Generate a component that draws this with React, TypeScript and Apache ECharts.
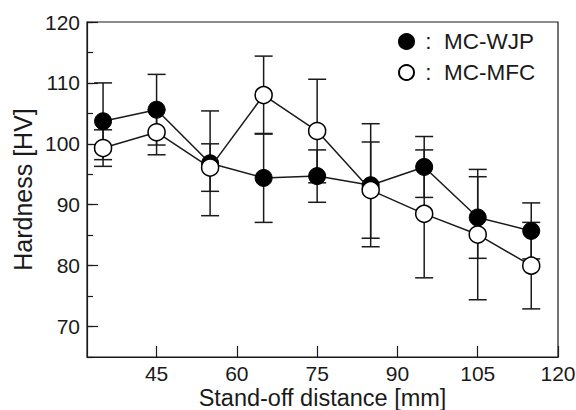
import React, { useEffect, useRef } from "react";
import * as echarts from "echarts";

const distances = [35, 45, 55, 65, 75, 85, 95, 105, 115];
const wjpMean = [103.7, 105.6, 96.8, 94.4, 94.7, 93.2, 96.2, 87.9, 85.7];
const wjpErr = [6.3, 5.8, 8.6, 7.3, 4.3, 10.1, 5.0, 6.7, 4.6];
const mfcMean = [99.3, 101.9, 96.1, 108.0, 102.1, 92.4, 88.5, 85.1, 80.0];
const mfcErr = [3.0, 3.7, 3.9, 6.4, 8.5, 7.9, 10.5, 10.7, 7.1];
const xTicks = [45, 60, 75, 90, 105, 120];
const yMajorTicks = [70, 80, 90, 100, 110, 120];

const FONT = "'Liberation Sans', Arial, Helvetica, sans-serif";
const INK = "#1a1a1a";

export default function App() {
  const ref = useRef<HTMLDivElement>(null);
  useEffect(() => {
    if (!ref.current) return;
    const chart = echarts.init(ref.current, null, { renderer: "svg" });
    const errRows: number[][] = [];
    distances.forEach((x, i) => {
      errRows.push([x, wjpMean[i] - wjpErr[i], wjpMean[i] + wjpErr[i]]);
      errRows.push([x, mfcMean[i] - mfcErr[i], mfcMean[i] + mfcErr[i]]);
    });
    chart.setOption({
      animation: false,
      backgroundColor: "#fff",
      textStyle: { fontFamily: FONT, color: INK },
      grid: {
        left: 87,
        right: 18,
        top: 22,
        bottom: 53,
        show: true,
        borderColor: INK,
        borderWidth: 1.2,
        backgroundColor: "transparent",
        outerBoundsMode: "none",
      },
      legend: {
        data: ["MC-WJP", "MC-MFC"],
        orient: "vertical",
        left: 393,
        top: 25,
        icon: "circle",
        itemWidth: 15,
        itemHeight: 15,
        itemGap: 8,
        formatter: (n: string) => " :  " + n,
        textStyle: { fontSize: 22.5, color: INK, fontFamily: FONT },
      },
      xAxis: {
        type: "value",
        min: 32,
        max: 120,
        name: "Stand-off distance [mm]",
        nameLocation: "middle",
        nameGap: 29,
        nameMoveOverlap: false,
        nameTextStyle: { fontSize: 23.5, color: INK, fontFamily: FONT },
        axisLine: { show: true, lineStyle: { color: INK, width: 1.2 } },
        axisTick: { show: true, inside: true, length: 11, customValues: xTicks, lineStyle: { color: INK, width: 1.2 } },
        axisLabel: { show: true, customValues: xTicks, fontSize: 21, color: INK, margin: 6, fontFamily: FONT },
        splitLine: { show: false },
      },
      yAxis: [
        {
          type: "value",
          min: 65,
          max: 120,
          interval: 5,
          position: "left",
          name: "Hardness [HV]",
          nameLocation: "middle",
          nameGap: 52,
          nameMoveOverlap: false,
          nameTextStyle: { fontSize: 25, color: INK, fontFamily: FONT },
          axisLine: { show: true, lineStyle: { color: INK, width: 1.2 } },
          axisTick: { show: true, inside: true, length: 6, lineStyle: { color: INK, width: 1.2 } },
          axisLabel: {
            show: true,
            fontSize: 21,
            color: INK,
            margin: 7,
            fontFamily: FONT,
            formatter: (v: number) => (v % 10 === 0 ? String(v) : ""),
          },
          splitLine: { show: false },
        },
        {
          type: "value",
          min: 65,
          max: 120,
          interval: 5,
          position: "left",
          offset: 0,
          axisLine: { show: false },
          axisTick: { show: true, inside: true, length: 11, customValues: yMajorTicks, lineStyle: { color: INK, width: 1.2 } },
          axisLabel: { show: false },
          splitLine: { show: false },
        },
      ],
      series: [
        {
          type: "custom",
          name: "err",
          z: 1,
          silent: true,
          encode: { x: 0, y: [1, 2] },
          data: errRows,
          renderItem: (params: any, api: any) => {
            const x = api.value(0);
            const lo = api.coord([x, api.value(1)]);
            const hi = api.coord([x, api.value(2)]);
            const cw = 9;
            const style = { stroke: INK, lineWidth: 1.5 };
            return {
              type: "group",
              children: [
                { type: "line", shape: { x1: hi[0], y1: hi[1], x2: lo[0], y2: lo[1] }, style },
                { type: "line", shape: { x1: hi[0] - cw, y1: hi[1], x2: hi[0] + cw, y2: hi[1] }, style },
                { type: "line", shape: { x1: lo[0] - cw, y1: lo[1], x2: lo[0] + cw, y2: lo[1] }, style },
              ],
            };
          },
        },
        {
          type: "line",
          name: "MC-WJP",
          z: 3,
          symbol: "circle",
          symbolSize: 17,
          data: distances.map((x, i) => [x, wjpMean[i]]),
          itemStyle: { color: "#000", borderColor: "#000", borderWidth: 1 },
          lineStyle: { color: INK, width: 1.5 },
        },
        {
          type: "line",
          name: "MC-MFC",
          z: 4,
          symbol: "circle",
          symbolSize: 17,
          data: distances.map((x, i) => [x, mfcMean[i]]),
          itemStyle: { color: "#fff", borderColor: "#000", borderWidth: 1.5 },
          lineStyle: { color: INK, width: 1.5 },
        },
      ],
    });
    return () => chart.dispose();
  }, []);
  return (
    <div
      ref={ref}
      style={{ position: "absolute", left: 0, top: 0, width: 576, height: 410 }}
    />
  );
}
